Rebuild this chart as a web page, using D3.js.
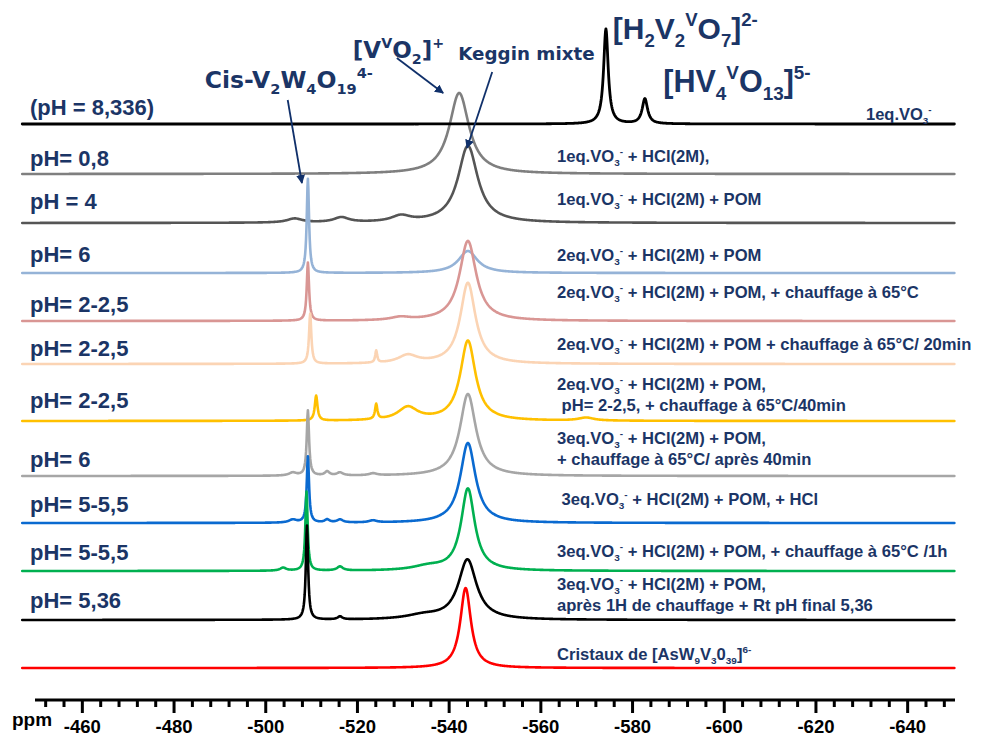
<!DOCTYPE html>
<html><head><meta charset="utf-8">
<script src="https://cdn.jsdelivr.net/npm/d3@7"></script>
<style>
body{margin:0;background:#fff}
svg{display:block}
text{white-space:pre}
</style>
</head><body>
<script>
// ---------- DATA ----------
const ppmDomain = [-450, -650];
const majorTicks = [-460, -480, -500, -520, -540, -560, -580, -600, -620, -640];
const minorTicks = d3.range(-452, -650, -4).filter(v => !majorTicks.includes(v));
const axisTitle = "ppm";

const sampleNames = ["pH8.336", "pH0.8", "pH4", "pH6a", "pH2a", "pH2b", "pH2c", "pH6b", "pH5a", "pH5b", "pH5.36", "cristaux"];
const stackOffsets = [576, 526, 477, 427, 379, 336, 279, 224, 177, 129, 80, 32];
const colors = ["#000000", "#7f7f7f", "#555555", "#95b3d7", "#d99694", "#fbd4b4", "#ffc000", "#a6a6a6", "#0a6ad0", "#00b050", "#000000", "#ff0000"];

// peaks: [ppm, intensity, half-width (ppm)]
const peaks_pH8336 = [[-574.3, 95, 0.6], [-582.8, 25, 0.7]];
const peaks_pH08 = [[-542.3, 81, 2.6]];
const peaks_pH4 = [[-544.2, 77, 2.6], [-506.4, 4, 2], [-516.6, 5, 2], [-529.6, 6, 2.5]];
const peaks_pH6a = [[-509.3, 94, 0.3], [-544.2, 22, 2.5]];
const peaks_pH2a = [[-509.3, 58, 0.3], [-544.2, 80, 2.2], [-529.5, 3, 2.5]];
const peaks_pH2b = [[-509.8, 50, 0.3], [-544.2, 81, 2.0], [-524.2, 12, 0.25], [-531.1, 8, 2.5]];
const peaks_pH2c = [[-544.2, 80, 2.0], [-511.1, 25, 0.35], [-524.2, 15, 0.3], [-531.1, 13, 2.6], [-570, 3, 2]];
const peaks_pH6b = [[-509.3, 65, 0.3], [-544.2, 82, 2.1], [-506, 3, 1], [-513.5, 4, 0.6], [-516.3, 3, 0.8], [-523.5, 2, 1]];
const peaks_pH5a = [[-509.3, 66, 0.3], [-544.2, 80, 2.0], [-506, 3, 1], [-513.5, 3, 0.6], [-516.3, 3, 0.8], [-523.5, 2, 1]];
const peaks_pH5b = [[-509.0, 79, 0.3], [-544.2, 82, 1.8], [-503.9, 3, 0.8], [-516.3, 4, 0.8], [-535.5, 4, 4]];
const peaks_pH536 = [[-509.1, 94, 0.3], [-544.1, 60, 2.4], [-516.3, 3, 0.6], [-534.5, 4, 4.5]];
const peaks_cristaux = [[-543.7, 80, 1.4]];
const allPeaks = [peaks_pH8336, peaks_pH08, peaks_pH4, peaks_pH6a, peaks_pH2a, peaks_pH2b, peaks_pH2c, peaks_pH6b, peaks_pH5a, peaks_pH5b, peaks_pH536, peaks_cristaux];
const ppmStart = -447, ppmEnd = -650.3;

const leftLabels = ["(pH = 8,336)", "pH= 0,8", "pH = 4", "pH= 6", "pH= 2-2,5", "pH= 2-2,5", "pH= 2-2,5", "pH= 6", "pH= 5-5,5", "pH= 5-5,5", "pH= 5,36"];
const rightLabels = [
  ["1eq.VO_{3}^{-}"],
  ["1eq.VO_{3}^{-} + HCl(2M),"],
  ["1eq.VO_{3}^{-} + HCl(2M) + POM"],
  ["2eq.VO_{3}^{-} + HCl(2M) + POM"],
  ["2eq.VO_{3}^{-} + HCl(2M) + POM, + chauffage à 65°C"],
  ["2eq.VO_{3}^{-} + HCl(2M) + POM + chauffage à 65°C/ 20min"],
  ["2eq.VO_{3}^{-} + HCl(2M) + POM,", " pH= 2-2,5, + chauffage à 65°C/40min"],
  ["3eq.VO_{3}^{-} + HCl(2M) + POM,", "+ chauffage à 65°C/ après 40min"],
  [" 3eq.VO_{3}^{-} + HCl(2M) + POM, + HCl"],
  ["3eq.VO_{3}^{-} + HCl(2M) + POM, + chauffage à 65°C /1h"],
  ["3eq.VO_{3}^{-} + HCl(2M) + POM,", "après 1H de chauffage + Rt pH final 5,36"],
  ["Cristaux de [AsW_{9}V_{3}0_{39}]^{6-}"]
];
const annotations = [
  {text: "Cis-V_{2}W_{4}O_{19}^{4-}", ppm: -486.8, v: 612, font: "DejaVu Sans", size: 23.5},
  {text: "[V^{V}O_{2}]^{+}", ppm: -519.1, v: 642, font: "DejaVu Sans", size: 23},
  {text: "Keggin mixte", ppm: -542.1, v: 640, font: "DejaVu Sans", size: 18.3},
  {text: "[H_{2}V_{2}^{V}O_{7}]^{2-}", ppm: -575.8, v: 661, font: "Liberation Sans", size: 30},
  {text: "[HV_{4}^{V}O_{13}]^{5-}", ppm: -586.8, v: 608, font: "Liberation Sans", size: 30.5}
];
const arrows = [
  {from: [-504.9, 600], to: [-508.0, 517]},
  {from: [-528.7, 642], to: [-538.8, 607]},
  {from: [-549.5, 628], to: [-544.0, 552]}
];

// ---------- LAYOUT ----------
const W = 986, H = 738;
const navy = "#1b3566";
const sans = "'Liberation Sans', Arial, sans-serif";
const leftLabelY = [115, 166, 209, 262, 312, 356, 408, 467, 512, 560, 608];
const rightLabelX = 557;
const rightLabelY = [[120], [162], [205], [261], [298], [350], [390, 411], [444, 465], [505], [557], [590, 611], [660]];
const rightSize = 16.6;

const svg = d3.select("body").append("svg").attr("width", W).attr("height", H);
const x = d3.scaleLinear().domain(ppmDomain).range([36, 953]);
const y = d3.scaleLinear().domain([0, 700]).range([700, 0]);

function rich(sel, str, size, subScale) {
  const parts = str.split(/(_\{[^}]*\}|\^\{[^}]*\})/).filter(s => s.length);
  let shift = 0;
  parts.forEach(p => {
    let t = p, target = 0, fs = size;
    if (p.startsWith("_{")) { t = p.slice(2, -1); target = 0.25 * size; fs = size * subScale; }
    else if (p.startsWith("^{")) { t = p.slice(2, -1); target = -0.42 * size; fs = size * subScale; }
    sel.append("tspan").attr("dy", target - shift).attr("font-size", fs).text(t);
    shift = target;
  });
}

// spectra
const line = d3.line().x(d => x(d[0])).y(d => d[1]).curve(d3.curveLinear);
function spectrum(peaks) {
  let grid = d3.range(0, Math.round((ppmStart - ppmEnd) / 0.1) + 1).map(i => ppmStart - i * 0.1);
  peaks.forEach(p => grid.push(p[0]));
  grid.sort((a, b) => b - a);
  return grid.map(ppm => [ppm, d3.sum(peaks, p => p[1] / (1 + ((ppm - p[0]) / p[2]) ** 2))]);
}
const order = d3.range(1, sampleNames.length).concat([0]);
order.forEach(i => {
  const pts = spectrum(allPeaks[i]).map(d => [d[0], y(stackOffsets[i] + d[1])]);
  svg.append("path").attr("d", line(pts)).attr("fill", "none")
    .attr("stroke", colors[i]).attr("stroke-width", i === 0 ? 2.8 : 2.6)
    .attr("stroke-linejoin", "round").attr("stroke-linecap", "round");
});

// axis
const gAxis = svg.append("g").attr("transform", `translate(0,${y(0)})`);
const axMajor = d3.axisBottom(x).tickValues(majorTicks).tickSize(13).tickSizeOuter(0).tickFormat(d => String(d));
gAxis.call(axMajor);
gAxis.select(".domain").attr("stroke", "#000").attr("stroke-width", 3).attr("d", `M${x(ppmDomain[0]) - 1},0H${x(ppmDomain[1]) + 2}`);
gAxis.selectAll(".tick line").attr("stroke", "#000").attr("stroke-width", 3);
gAxis.selectAll(".tick text").attr("y", 33).attr("dy", 0).attr("fill", "#000")
  .attr("font-family", sans).attr("font-weight", "bold").attr("font-size", 18.5);
const gMinor = svg.append("g").attr("transform", `translate(0,${y(0)})`);
gMinor.call(d3.axisBottom(x).tickValues(minorTicks).tickSize(7).tickSizeOuter(0).tickFormat(""));
gMinor.select(".domain").remove();
gMinor.selectAll(".tick line").attr("stroke", "#000").attr("stroke-width", 3);
svg.append("text").attr("x", 12).attr("y", 726).attr("font-family", sans).attr("font-weight", "bold")
  .attr("font-size", 19).attr("fill", "#000").text(axisTitle);

// left labels
leftLabels.forEach((t, i) => {
  svg.append("text").attr("x", 30).attr("y", leftLabelY[i]).attr("font-family", sans)
    .attr("font-weight", "bold").attr("font-size", 22).attr("fill", navy).text(t);
});

// right labels
rightLabels.forEach((lines, i) => {
  lines.forEach((l, j) => {
    const fs = i === 0 ? 16.5 : rightSize;
    const t = svg.append("text").attr("x", i === 0 ? 866 : rightLabelX).attr("y", rightLabelY[i][j])
      .attr("font-family", sans).attr("font-weight", "bold").attr("font-size", fs).attr("fill", navy);
    rich(t, l, fs, 0.6);
  });
});

// annotations
annotations.forEach(a => {
  const t = svg.append("text").attr("x", x(a.ppm)).attr("y", y(a.v))
    .attr("font-family", `'${a.font}', sans-serif`).attr("font-weight", "bold")
    .attr("font-size", a.size).attr("fill", navy);
  rich(t, a.text, a.size, 0.62);
});

// arrows
svg.append("defs").append("marker").attr("id", "ah").attr("viewBox", "0 0 10 10")
  .attr("refX", 9).attr("refY", 5).attr("markerWidth", 5).attr("markerHeight", 5)
  .attr("orient", "auto-start-reverse").attr("markerUnits", "strokeWidth")
  .append("path").attr("d", "M0,0L10,5L0,10z").attr("fill", "#10306a");
arrows.forEach(a => {
  svg.append("line").attr("x1", x(a.from[0])).attr("y1", y(a.from[1]))
    .attr("x2", x(a.to[0])).attr("y2", y(a.to[1]))
    .attr("stroke", "#10306a").attr("stroke-width", 1.8).attr("marker-end", "url(#ah)");
});
</script>
</body></html>
